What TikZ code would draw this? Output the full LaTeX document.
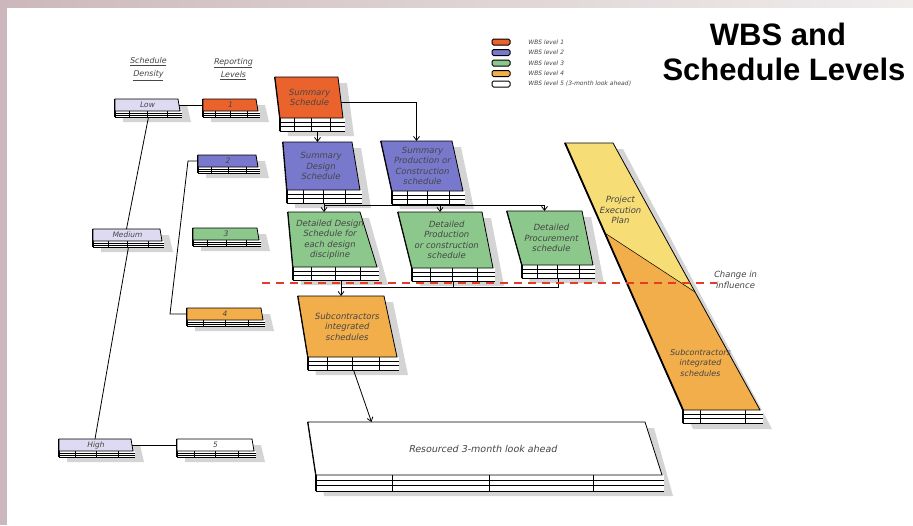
\documentclass[tikz,border=0pt]{standalone}
\usepackage{tikz}
\usepackage{fontspec}
\usetikzlibrary{arrows.meta,calc}
\newfontfamily\titlefont{Liberation Sans}
\newfontfamily\handfont{DejaVu Sans}[FakeSlant=0.2]

\definecolor{frame}{RGB}{204,184,188}
\definecolor{framelight}{RGB}{240,237,237}
\definecolor{wbsone}{RGB}{234,98,44}
\definecolor{wbstwo}{RGB}{120,120,205}
\definecolor{wbsthree}{RGB}{140,200,140}
\definecolor{wbsfour}{RGB}{242,174,74}
\definecolor{pepyellow}{RGB}{246,221,118}
\definecolor{density}{RGB}{222,218,242}
\definecolor{influence}{RGB}{228,60,40}
\definecolor{handgray}{RGB}{70,70,70}

\tikzset{
  hand/.style={font=\handfont\fontsize{8.5}{10.5}\selectfont, text=handgray, align=center, inner sep=0.75pt},
  face/.style={draw=black, line width=0.8pt},
  edge/.style={line width=1.8pt},
  sheet/.style={line width=0.5pt},
  boxshadow/.style={black!17},
  link/.style={line width=0.8pt},
  arrow/.style={line width=0.8pt, -{Straight Barb[length=4pt,width=6pt]}},
  swatch/.style={line width=1pt, rounded corners=1.5pt},
  legend/.style={font=\handfont\fontsize{6}{7}\selectfont, text=handgray, anchor=west, inner sep=0.75pt},
  header/.style={font=\handfont\fontsize{8}{13.5}\selectfont, text=handgray, align=center, inner sep=0.75pt},
  titletext/.style={font=\titlefont\bfseries\fontsize{31}{35}\selectfont, inner sep=0pt}
}

% stack height of a box
\newcommand{\wstk}{13}
% #1 name, #2 #3 top left, #4 width, #5 face height, #6 left slant, #7 right slant, #8 fill, #9 text
\newcommand{\wbsbox}[9]{%
  \pgfmathsetmacro\wxa{#2}%
  \pgfmathsetmacro\wya{#3}%
  \pgfmathsetmacro\wxb{#2+#4}%
  \pgfmathsetmacro\wyb{#3+#5}%
  \pgfmathsetmacro\wxc{#2+#4+#7}%
  \pgfmathsetmacro\wxd{#2+#6}%
  \pgfmathsetmacro\wys{#3+#5+\wstk}%
  \fill[boxshadow] (\wxa+8,\wya+6) -- (\wxb+9,\wya+6) -- (\wxc+11,\wys+5) -- (\wxd+8,\wys+5) -- cycle;
  \fill[white] (\wxd,\wyb) rectangle (\wxc+2,\wys);
  \foreach \k in {1,2,3} \draw[sheet] (\wxd,\wyb+\k*\wstk/3) -- (\wxc+2,\wyb+\k*\wstk/3);
  \foreach \f in {0.22,0.5,0.8} \draw[sheet] (\wxd+\f*\wxc-\f*\wxd,\wyb) -- +(0,\wstk);
  \draw[edge] (\wxa,\wya) -- (\wxd,\wyb) -- (\wxd,\wys);
  \filldraw[fill=#8,face] (\wxa,\wya) -- (\wxb,\wya) -- (\wxc,\wyb) -- (\wxd,\wyb) -- cycle;
  \node[hand] (#1) at ({(\wxa+\wxb+\wxc+\wxd)/4},{\wya+#5/2}) {#9};
  \coordinate (#1-top) at ({(\wxa+\wxb)/2},\wya);
  \coordinate (#1-bot) at ({(\wxd+\wxc+2)/2},\wys);
  \coordinate (#1-right) at ({(\wxb+\wxc)/2},{\wya+#5/2});
  \coordinate (#1-left) at ({(\wxa+\wxd)/2},{\wya+#5/2});
}
% #1 name, #2 #3 top left, #4 width, #5 fill, #6 text
\newcommand{\levelbox}[6]{%
  \begingroup
  \renewcommand{\wstk}{6}%
  \tikzset{hand/.append style={font=\handfont\fontsize{7.5}{9}\selectfont}}%
  \wbsbox{#1}{#2}{#3}{#4}{12}{0}{2}{#5}{#6}%
  \endgroup
}

\begin{document}
\begin{tikzpicture}[x=1pt,y=1pt,yscale=-1,xscale=1]
\useasboundingbox (0,0) rectangle (913,525);

%Shape: page frame
\fill[white] (0,0) rectangle (913,525);
\fill[frame] (0,0) rectangle (7,525);
\shade[left color=frame, right color=framelight] (0,0) rectangle (913,7);

% Title
\node[titletext, anchor=base] (title1) at (778,45) {WBS and};
\node[titletext, anchor=base] (title2) at (784,80) {Schedule Levels};

%Legend
\foreach \c/\t [count=\i] in {wbsone/WBS level 1, wbstwo/WBS level 2, wbsthree/WBS level 3, wbsfour/WBS level 4, white/WBS level 5 (3-month look ahead)}{
  \draw[swatch, fill=\c] (492,{28.5+10.5*\i}) rectangle ++(18,6);
  \node[legend] (leg\i) at (527,{31.5+10.5*\i}) {\t};
}

% Column headers
\node[header] (density) at (148,69) {\underline{Schedule}\\\underline{Density}};
\node[header] (reporting) at (233,69) {\underline{Reporting}\\\underline{Levels}};

%Shape: density and reporting levels
\levelbox{low}{115}{99}{63}{density}{Low}
\levelbox{lv1}{203}{99}{53}{wbsone}{1}
\levelbox{lv2}{198}{155}{58}{wbstwo}{2}
\levelbox{medium}{93}{229}{67}{density}{Medium}
\levelbox{lv3}{193}{228}{64}{wbsthree}{3}
\levelbox{lv4}{187}{308}{74}{wbsfour}{4}
\levelbox{high}{59}{439}{72}{density}{High}
\levelbox{lv5}{177}{439}{75}{white}{5}

\draw[link] (low-bot) -- (medium-top);
\draw[link] (medium-bot) -- (high-top);
\draw[link] (low-right) -- (lv1-left);
\draw[link] (high-right) -- (lv5-left);
\draw[link] (lv2-left) -- ++(-10,0) -- ($(lv4-left)+(-17,0)$) -- (lv4-left);

%Shape: project execution plan band
\fill[boxshadow] (575,149) -- (623,149) -- (772,429) -- (693,429) -- cycle;
\fill[white] (683,410) rectangle (763,423);
\foreach \k in {1,2,3} \draw[sheet] (683,{410+\k*13/3}) -- (763,{410+\k*13/3});
\foreach \x in {700,745} \draw[sheet] (\x,410) -- (\x,423);
\fill[pepyellow] (565,143) -- (613,143) -- (760,410) -- (683,410) -- cycle;
\fill[wbsfour] (604.8,233) -- (695,292) -- (760,410) -- (683,410) -- cycle;
\draw[sheet] (604.8,233) -- (695,292);
\draw[face] (565,143) -- (613,143) -- (760,410) -- (683,410) -- cycle;
\draw[edge] (565,143) -- (683,410) -- (683,423);
\node[hand] (pep) at (620,210) {Project\\Execution\\Plan};
\node[hand, font=\handfont\fontsize{8}{10.5}\selectfont] (subband) at (700,363) {Subcontractors\\integrated\\schedules};

%Shape: schedule boxes
\wbsbox{sumsched}{275}{77}{63}{41}{5}{5}{wbsone}{Summary\\Schedule}
\wbsbox{sumdesign}{283}{142}{69}{48}{4}{8}{wbstwo}{Summary\\Design\\Schedule}
\wbsbox{sumprod}{381}{141}{71}{50}{11}{11}{wbstwo}{Summary\\Production or\\Construction\\schedule}
\wbsbox{detdesign}{288}{212}{72}{55}{5}{17}{wbsthree}{Detailed Design\\Schedule for\\each design\\discipline}
\wbsbox{detprod}{398}{212}{84}{56}{14}{11}{wbsthree}{Detailed\\Production\\or construction\\schedule}
\wbsbox{detproc}{507}{211}{75}{54}{15}{11}{wbsthree}{Detailed\\Procurement\\schedule}
\wbsbox{subcon}{298}{296}{86}{61}{10}{13}{wbsfour}{Subcontractors\\integrated\\schedules}
{\renewcommand{\wstk}{16}%
\wbsbox{resourced}{308}{422}{337}{53}{8}{17}{white}{\fontsize{9.5}{11}\selectfont Resourced 3-month look ahead}}

%Connectors
\draw[arrow] (sumsched-bot -| sumdesign-top) -- (sumdesign-top);
\draw[arrow] ($(sumsched-right)+(0,5)$) -| (sumprod-top);
\coordinate (bus1) at (330,205);
\draw[link] (sumdesign-bot) -- (sumdesign-bot |- bus1) -- (detproc-top |- bus1);
\draw[link] (sumprod-bot) -- (sumprod-bot |- bus1);
\draw[arrow] (detdesign-top |- bus1) -- (detdesign-top);
\draw[arrow] (detprod-top |- bus1) -- (detprod-top);
\draw[arrow] (detproc-top |- bus1) -- (detproc-top);
\coordinate (bus2) at (330,287);
\draw[arrow] (subcon-top |- detdesign-bot) -- (subcon-top);
\draw[link] (detproc-bot) -- (detproc-bot |- bus2) -- (subcon-top |- bus2);
\draw[link] (detprod-bot) -- (detprod-bot |- bus2);
\coordinate (subcon-aim) at ($(subcon-bot)+(18,0)$);
\draw[arrow] (subcon-bot) -- (subcon-aim |- resourced-top);

%Shape: change in influence
\draw[influence, line width=1.6pt, dash pattern=on 8pt off 6pt] (262,283) -- (717,283);
\node[hand] (change) at (735,280) {Change in\\influence};

\end{tikzpicture}
\end{document}
